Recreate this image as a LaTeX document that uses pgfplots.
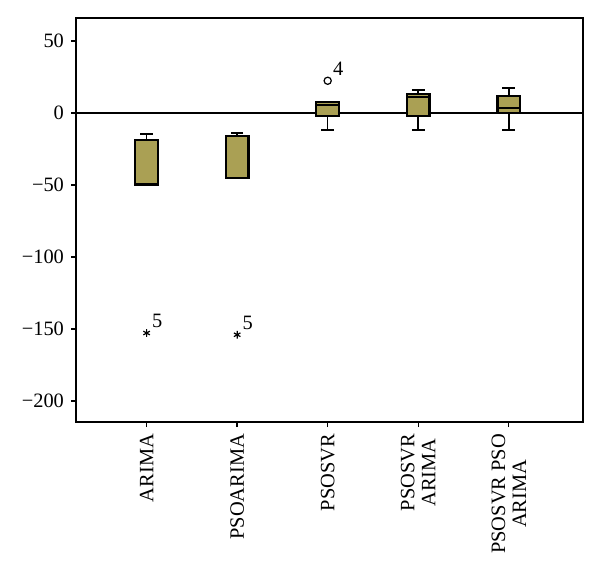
\documentclass[border=0pt]{standalone}
\usepackage{fontspec}
\setmainfont{Liberation Serif}
\usepackage{pgfplots}
\pgfplotsset{compat=1.18}
\usepgfplotslibrary{statistics}
\definecolor{boxfill}{RGB}{170,160,84}
\begin{document}
\begin{tikzpicture}
\begin{axis}[name=a, scale only axis, width=253.5pt, height=202pt,
 xmin=-0.78, xmax=4.82, ymin=-214.6, ymax=66,
 xtick={0,1,2,3,4},
 xticklabels={ARIMA, PSOARIMA, PSOSVR, {PSOSVR\\ARIMA}, {PSOSVR PSO\\ARIMA}},
 xticklabel style={rotate=90, anchor=east, align=center, font=\fontsize{10.2}{10.5}\selectfont},
 ytick={-200,-150,-100,-50,0,50},
 yticklabels={−200,−150,−100,−50,0,50},
 yticklabel style={font=\fontsize{10.2}{11}\selectfont},
 tick align=outside, major tick length=2.5pt, tick style={black, line width=0.7pt},
 xtick pos=left, ytick pos=left,
 axis line style={line width=0.75pt},
 boxplot/draw direction=y,
 boxplot/box extend=0.25, boxplot/whisker extend=0.14,
 boxplot/every box/.style={line width=1.1pt},
 boxplot/every median/.style={line width=1pt},
 boxplot/every whisker/.style={line width=0.8pt},
 clip=false]
\addplot[black, line width=0.75pt] coordinates {(-0.78,0) (4.82,0)};
\addplot[boxplot prepared={draw position=0, lower whisker=-49.7, lower quartile=-49.7, median=-18.75, upper quartile=-18.75, upper whisker=-14.6}, draw=black, fill=boxfill] coordinates {};
\addplot[boxplot prepared={draw position=1, lower whisker=-44.9, lower quartile=-44.9, median=-16, upper quartile=-16, upper whisker=-13.9}, draw=black, fill=boxfill] coordinates {};
\addplot[boxplot prepared={draw position=2, lower whisker=-12, lower quartile=-2.1, median=5.8, upper quartile=7.4, upper whisker=7.4}, draw=black, fill=boxfill] coordinates {};
\addplot[boxplot prepared={draw position=3, lower whisker=-12, lower quartile=-2.1, median=11.3, upper quartile=13.4, upper whisker=16}, draw=black, fill=boxfill] coordinates {};
\addplot[boxplot prepared={draw position=4, lower whisker=-12, lower quartile=0.2, median=3.7, upper quartile=11.8, upper whisker=17.4}, draw=black, fill=boxfill] coordinates {};
\addplot[only marks, mark=asterisk, mark size=1.9pt, black, line width=0.6pt] coordinates {(0,-152.8) (1,-154)};
\addplot[only marks, mark=o, mark size=1.8pt, black, line width=0.6pt] coordinates {(2,22.4)};
\node[anchor=south west, inner sep=0pt, xshift=2.5pt, yshift=2.5pt, font=\fontsize{10.2}{11}\selectfont] at (axis cs:0,-152.8) {5};
\node[anchor=south west, inner sep=0pt, xshift=2.5pt, yshift=2.5pt, font=\fontsize{10.2}{11}\selectfont] at (axis cs:1,-154) {5};
\node[anchor=south west, inner sep=0pt, xshift=2.5pt, yshift=2.5pt, font=\fontsize{10.2}{11}\selectfont] at (axis cs:2,22.4) {4};
\end{axis}
\pgfresetboundingbox
\path[use as bounding box] ([xshift=-38pt,yshift=-74pt]a.south west) rectangle ([xshift=8.5pt,yshift=9pt]a.north east);
\end{tikzpicture}
\end{document}
